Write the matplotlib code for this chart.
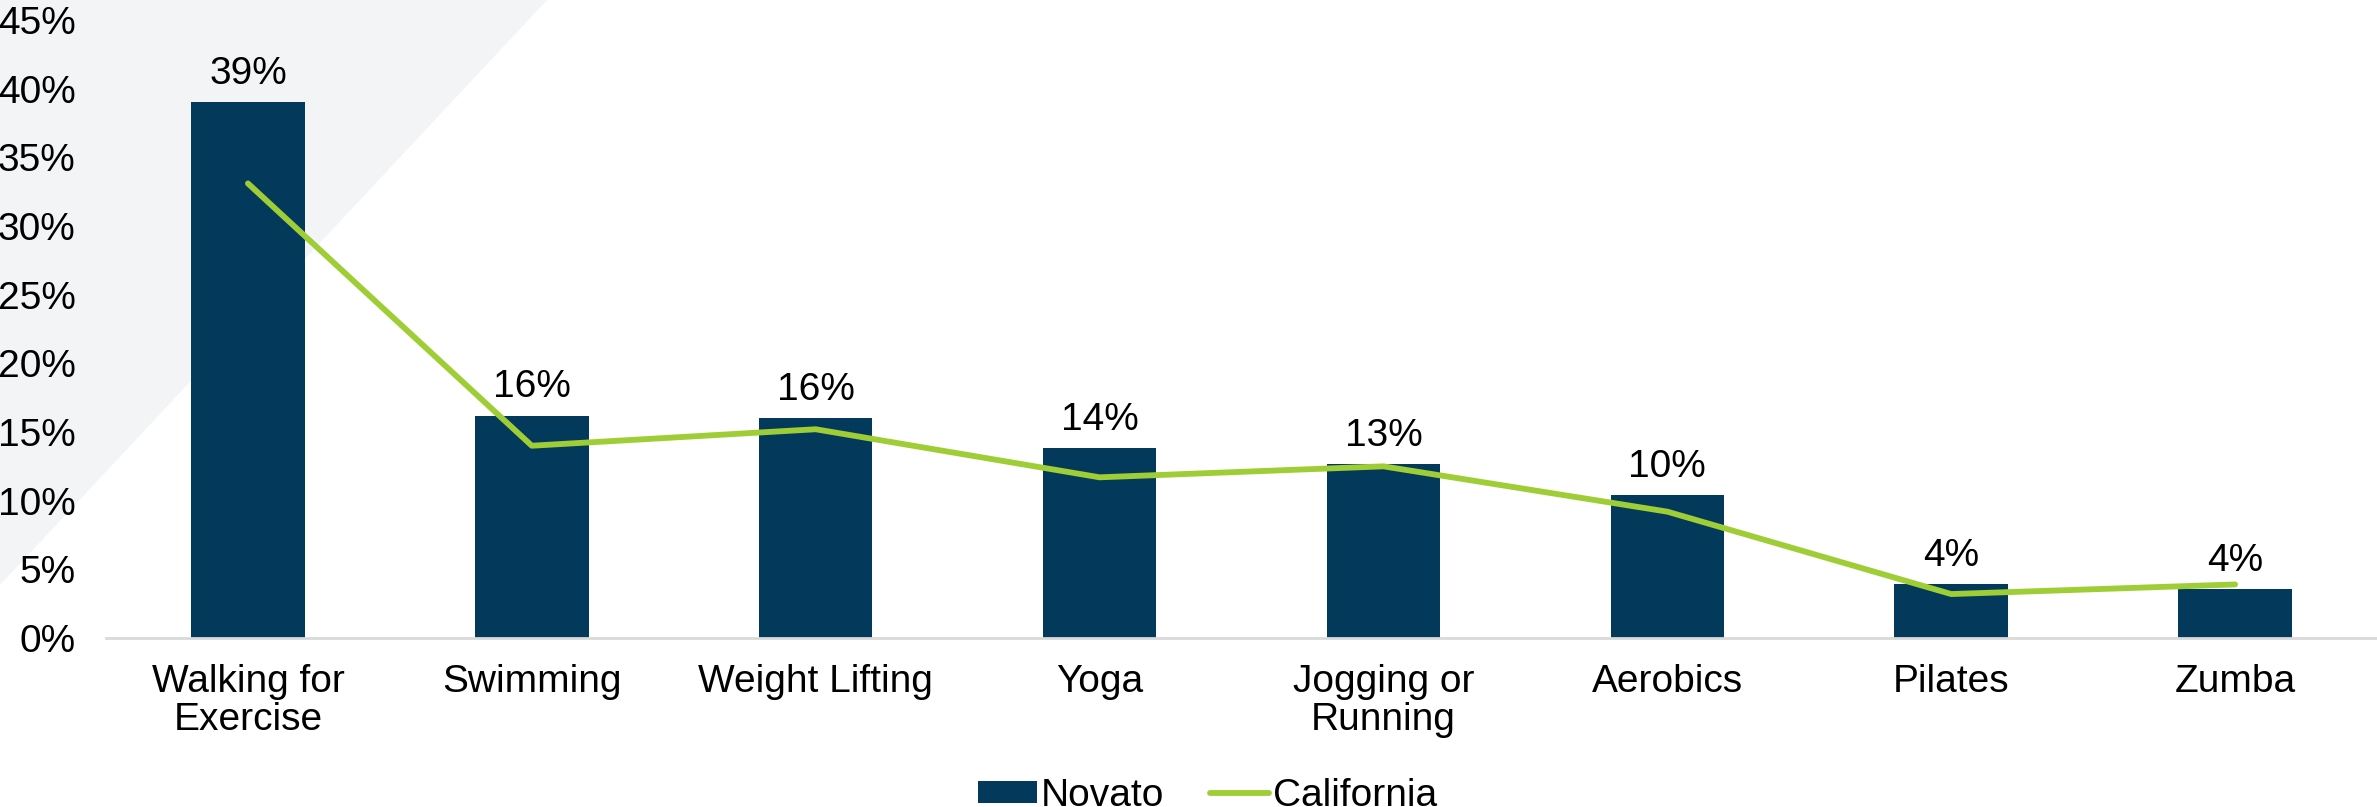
import matplotlib.pyplot as plt
from matplotlib.patches import Polygon
import numpy as np

categorias = ['Walking for\nExercise', 'Swimming', 'Weight Lifting', 'Yoga',
              'Jogging or\nRunning', 'Aerobics', 'Pilates', 'Zumba']
novato = [39.0, 16.2, 16.0, 13.8, 12.7, 10.4, 3.9, 3.6]
california = [33.1, 14.0, 15.2, 11.7, 12.5, 9.2, 3.2, 3.9]
yticks = [0, 5, 10, 15, 20, 25, 30, 35, 40, 45]

plt.rcParams['font.family'] = ['Liberation Sans', 'DejaVu Sans']
plt.rcParams['font.size'] = 28

color_barra = '#033A5C'
color_linea = '#9FCD36'

fig = plt.figure(figsize=(23.77, 8.07), dpi=100)

# triangulo gris de fondo arriba a la izquierda
fondo = Polygon([(0, 1), (547 / 2377, 1), (0, 1 - 585 / 807)], closed=True,
                transform=fig.transFigure, facecolor='#F3F4F6', edgecolor='none', zorder=-1)
fig.patches.append(fondo)

ax = fig.add_axes([106 / 2377, 1 - 638 / 807, 1 - 106 / 2377, (638 - 20) / 807])
ax.set_facecolor('none')
ax.set_zorder(1)

x = np.arange(len(categorias))
barras = ax.bar(x, novato, width=0.4, color=color_barra, label='Novato', zorder=2)
linea, = ax.plot(x, california, color=color_linea, linewidth=4.2, solid_capstyle='round',
                 label='California', zorder=3)

# etiquetas de valor sobre cada barra
for xi, v in zip(x, novato):
    ax.annotate(f'{round(v):d}%', (xi, v), xytext=(0, 13), textcoords='offset points',
                ha='center', va='baseline', fontsize=28)

ax.set_xlim(-0.5, len(categorias) - 0.5)
ax.set_ylim(0, 45)
ax.set_yticks(yticks)
ax.set_yticklabels([f'{t}%' for t in yticks])
ax.set_xticks(x)
ax.set_xticklabels(categorias, linespacing=1.05)
ax.tick_params(axis='both', length=0)
ax.tick_params(axis='x', pad=19)
ax.tick_params(axis='y', pad=22)

for lado in ['top', 'right', 'left']:
    ax.spines[lado].set_visible(False)
ax.spines['bottom'].set_color('#D9D9D9')
ax.spines['bottom'].set_linewidth(2)

fig.legend([barras, linea], ['Novato', 'California'], loc='center',
           bbox_to_anchor=(0.508, 0.014), ncol=2, frameon=False,
           fontsize=28, handlelength=1.5, handleheight=0.5, handletextpad=0.1,
           columnspacing=1.2)

fig.savefig('out.png', dpi=100)
